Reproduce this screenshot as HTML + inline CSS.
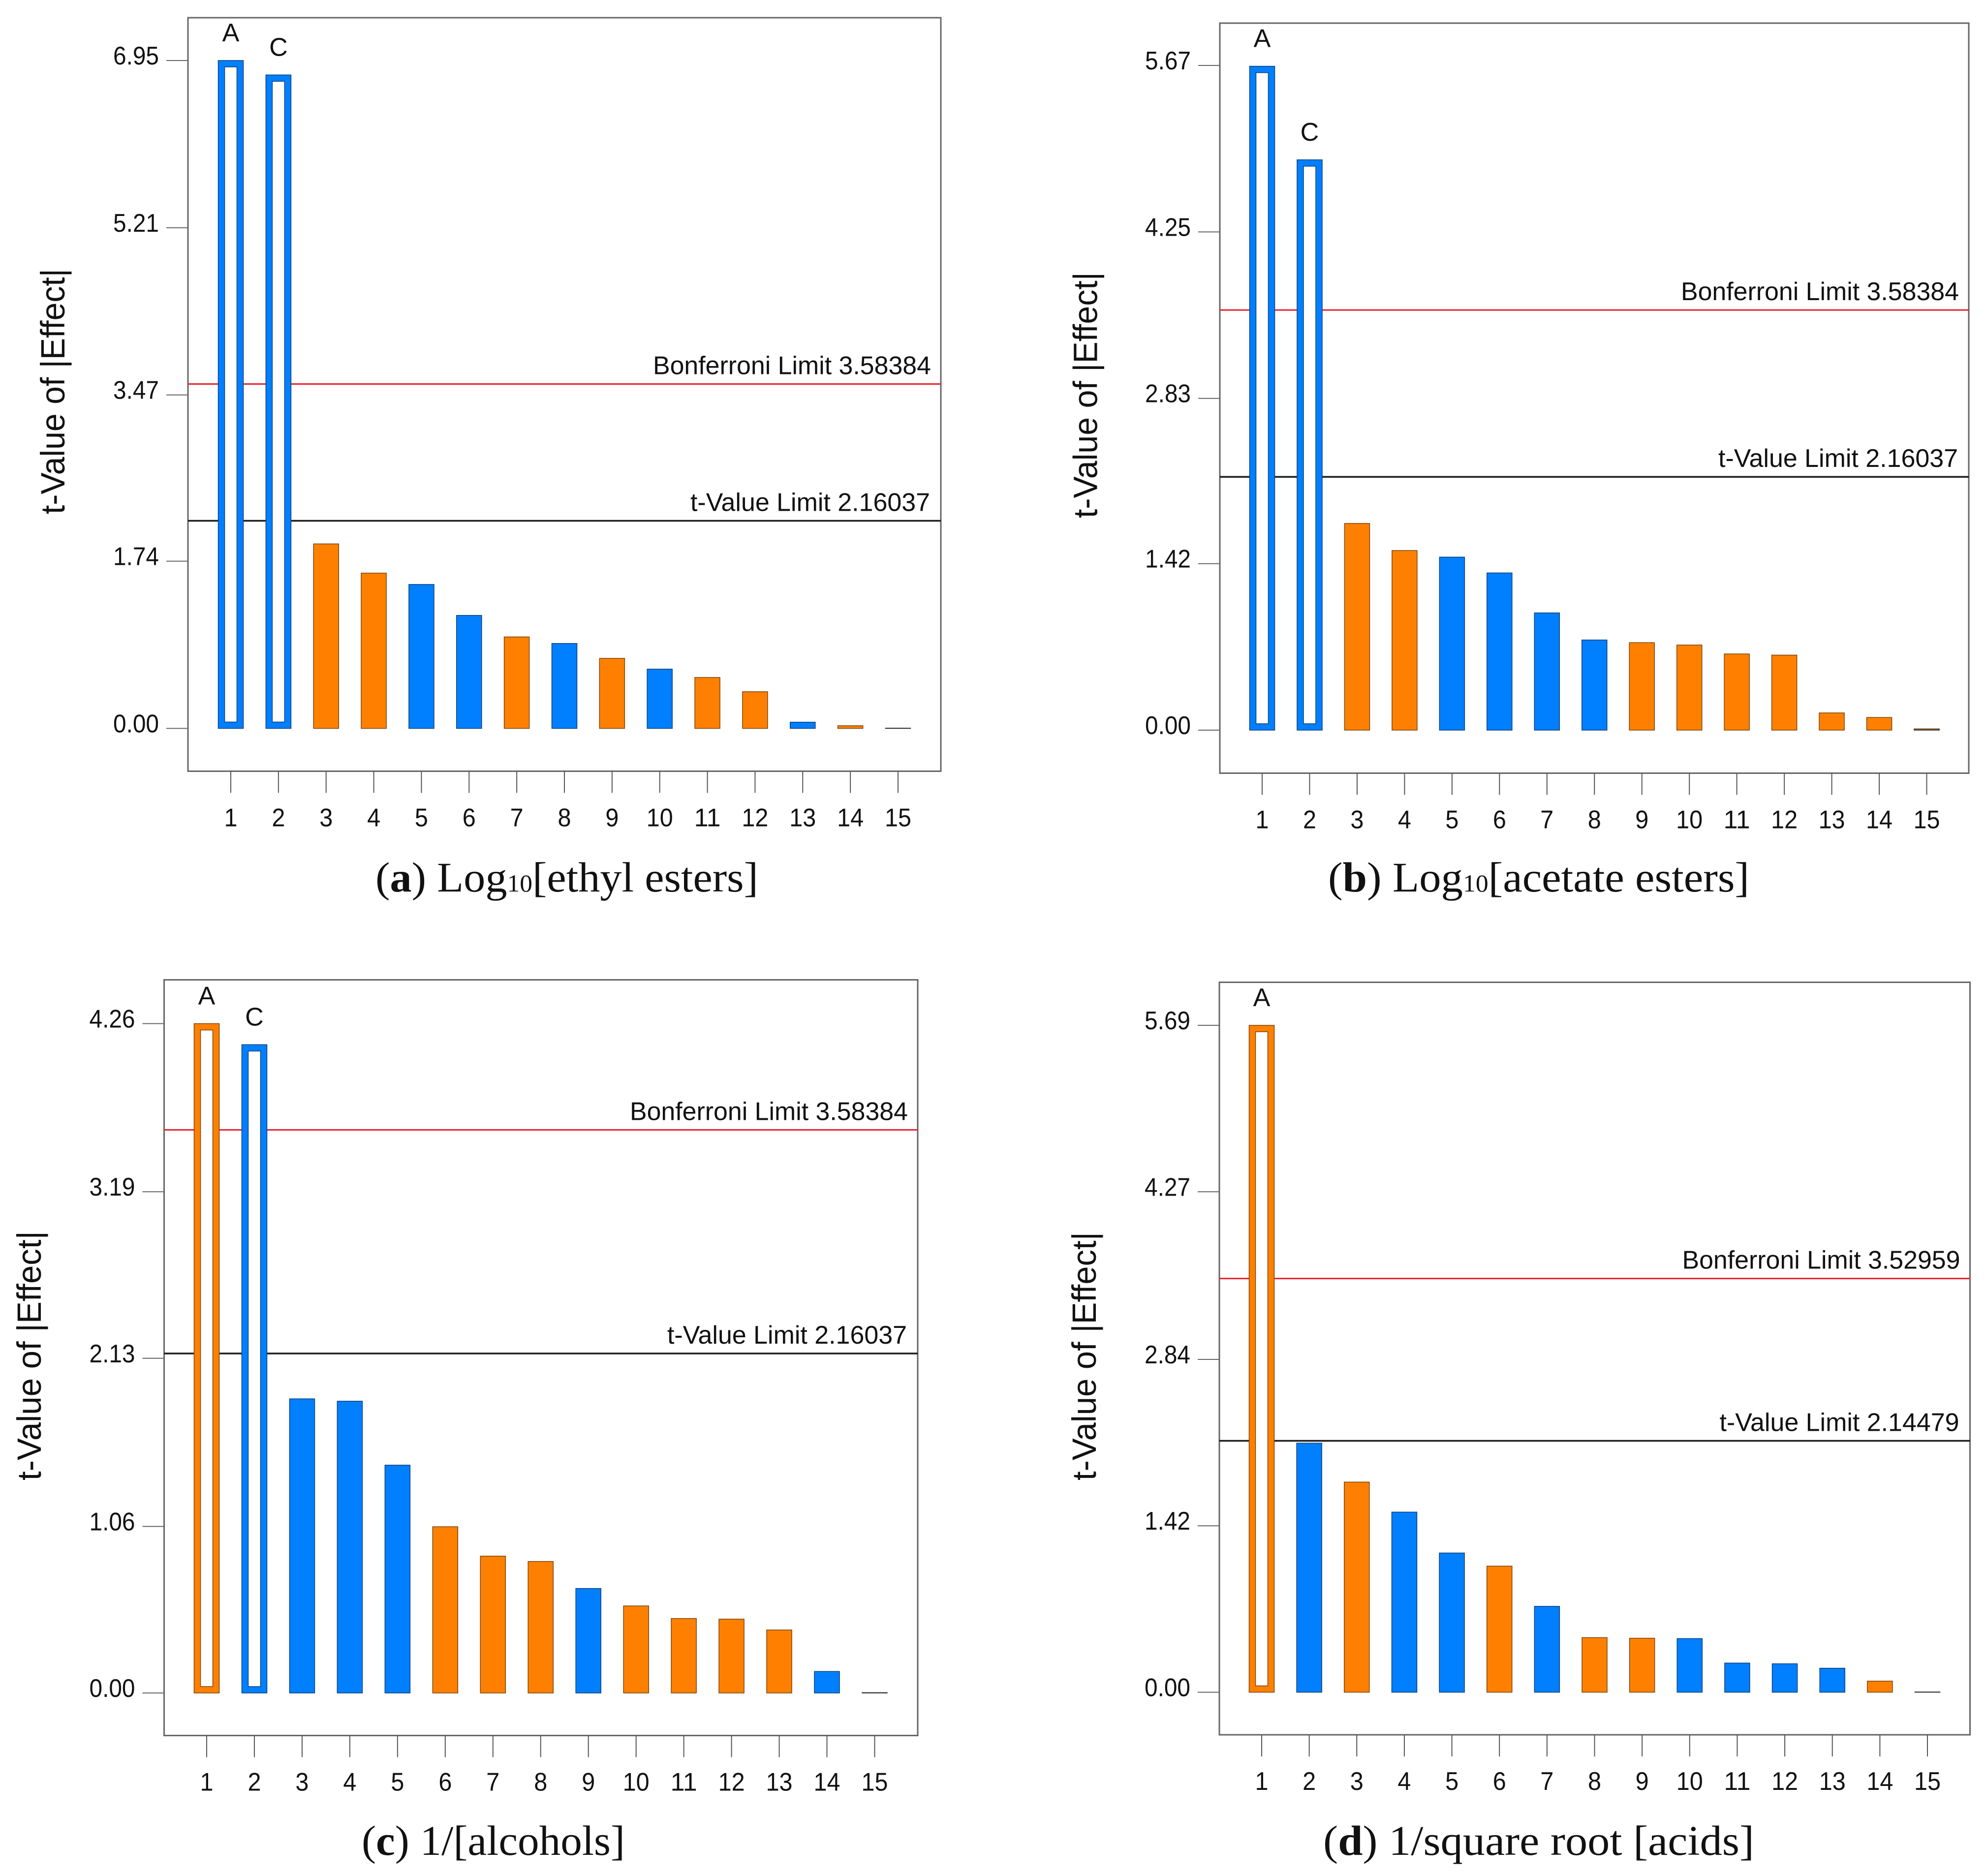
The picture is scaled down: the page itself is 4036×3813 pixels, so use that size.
<!DOCTYPE html>
<html lang="en">
<head>
<meta charset="utf-8">
<title>t-Value of |Effect| Pareto charts</title>
<style>
html,body{margin:0;padding:0;background:#fff;}
svg{display:block;}
text{font-family:"Liberation Sans",sans-serif;fill:#111;}
.caption{font-family:"Liberation Serif",serif;font-size:86px;fill:#111;}
</style>
</head>
<body>
<svg id="figure" xmlns="http://www.w3.org/2000/svg" width="4036" height="3813" viewBox="0 0 4036 3813">
<rect x="0" y="0" width="4036" height="3813" fill="#fff"/>
<g id="charts"></g>
<text class="caption" x="763" y="1812" textLength="778" lengthAdjust="spacingAndGlyphs">(<tspan font-weight="bold">a</tspan>) Log<tspan font-size="50">10</tspan>[ethyl esters]</text>
<text class="caption" x="2699" y="1812" textLength="856" lengthAdjust="spacingAndGlyphs">(<tspan font-weight="bold">b</tspan>) Log<tspan font-size="50">10</tspan>[acetate esters]</text>
<text class="caption" x="735" y="3770" textLength="535" lengthAdjust="spacingAndGlyphs">(<tspan font-weight="bold">c</tspan>) 1/[alcohols]</text>
<text class="caption" x="2689" y="3770" textLength="876" lengthAdjust="spacingAndGlyphs">(<tspan font-weight="bold">d</tspan>) 1/square root [acids]</text>
</svg>
<script>
// ---- data ----
const categories = [1,2,3,4,5,6,7,8,9,10,11,12,13,14,15];

const valuesA = [6.95,6.80,1.92,1.616,1.498,1.176,0.952,0.884,0.729,0.617,0.530,0.382,0.065,0.028,0.002];
const valuesB = [5.663,4.865,1.763,1.532,1.476,1.341,1.0,0.769,0.746,0.726,0.650,0.640,0.147,0.108,0.01];
const valuesC = [4.26,4.126,1.872,1.857,1.45,1.058,0.871,0.837,0.665,0.554,0.474,0.470,0.401,0.137,0.002];
const valuesD = [5.69,2.125,1.793,1.537,1.188,1.076,0.733,0.466,0.461,0.458,0.249,0.243,0.205,0.095,0.002];

// effect sign per bar: "p" = positive (orange), "n" = negative (blue)
const signsA = ["n","n","p","p","n","n","p","n","p","n","p","p","n","p","n"];
const signsB = ["n","n","p","p","n","n","n","n","p","p","p","p","p","p","p"];
const signsC = ["p","n","n","n","n","p","p","p","n","p","p","p","p","n","n"];
const signsD = ["p","n","p","n","n","p","n","p","p","n","n","n","n","p","n"];

const effectsA = ["A","C"];
const effectsB = ["A","C"];
const effectsC = ["A","C"];
const effectsD = ["A"];

const yTicksA = ["0.00","1.74","3.47","5.21","6.95"];
const yTicksB = ["0.00","1.42","2.83","4.25","5.67"];
const yTicksC = ["0.00","1.06","2.13","3.19","4.26"];
const yTicksD = ["0.00","1.42","2.84","4.27","5.69"];

const limitsA = [3.58384,2.16037];
const limitsB = [3.58384,2.16037];
const limitsC = [3.58384,2.16037];
const limitsD = [3.52959,2.14479];

// ---- layout (pixels, not data) ----
const panels = [
 {id:"a",values:valuesA,signs:signsA,effects:effectsA,ticks:yTicksA,limits:limitsA,
  left:382,right:1912,top:36,bottom:1567.5,yZero:1480.5,yMax:123,x1:469,x15:1825,titleX:131,titleY0:546,titleY1:1045},
 {id:"b",values:valuesB,signs:signsB,effects:effectsB,ticks:yTicksB,limits:limitsB,
  left:2479,right:4001,top:47,bottom:1571.5,yZero:1484,yMax:133,x1:2565,x15:3915.5,titleX:2229.5,titleY0:553,titleY1:1053},
 {id:"c",values:valuesC,signs:signsC,effects:effectsC,ticks:yTicksC,limits:limitsC,
  left:333.5,right:1865,top:1991.5,bottom:3527.5,yZero:3441,yMax:2080.5,x1:420,x15:1777.5,titleX:83,titleY0:2502,titleY1:3009},
 {id:"d",values:valuesD,signs:signsD,effects:effectsD,ticks:yTicksD,limits:limitsD,
  left:2478,right:4003.5,top:1996.5,bottom:3526,yZero:3439.5,yMax:2084,x1:2564,x15:3917,titleX:2227,titleY0:2504,titleY1:3009}
];

const NS = "http://www.w3.org/2000/svg";
const FILL = {p:"#ff8000",n:"#007fff"};
const EDGE = {p:"#7a4308",n:"#0b3f78"};
const root = document.getElementById("charts");

function make(tag, parent, attrs){
  const el = document.createElementNS(NS, tag);
  for (const k in attrs) el.setAttribute(k, attrs[k]);
  parent.appendChild(el);
  return el;
}

panels.forEach(function(p){
  const g = make("g", root, {});
  
  

  const domainMax = parseFloat(p.ticks[p.ticks.length-1]);
  const yScale = function(v){ return p.yZero - v * (p.yZero - p.yMax) / domainMax; };
  const xScale = function(c){ return p.x1 + (c - categories[0]) * (p.x15 - p.x1) / (categories[categories.length-1] - categories[0]); };

  const frame = make("rect", g, {x:p.left,y:p.top,width:p.right-p.left,height:p.bottom-p.top,fill:"#fff",stroke:"#666",'stroke-width':3});
  
  

  // y ticks
  p.ticks.forEach(function(t){
    const y = yScale(parseFloat(t));
    const line = make("line", g, {x1:p.left-44,x2:p.left,y1:y,y2:y,stroke:"#666",'stroke-width':2});
    
    
    const label = make("text", g, {x:p.left-59,y:y+8,'text-anchor':'end','font-size':52,textLength:93,lengthAdjust:'spacingAndGlyphs'});
    
    
    label.textContent = t;
  });

  // x ticks
  categories.forEach(function(c){
    const x = xScale(c);
    const line = make("line", g, {x1:x,x2:x,y1:p.bottom,y2:p.bottom+44,stroke:"#555",'stroke-width':2});
    
    
    const s = String(c);
    const label = make("text", g, {x:x,y:p.bottom+112,'text-anchor':'middle','font-size':52,textLength:27*s.length,lengthAdjust:'spacingAndGlyphs'});
    
    
    label.textContent = s;
  });

  // limit lines (behind bars)
  const limitColors = ["#e8212b","#1c1c1c"];
  const limitPrefix = ["Bonferroni Limit ","t-Value Limit "];
  const limitWidths = [565,487];
  const limitInset = [20,22];
  p.limits.forEach(function(v,i){
    const y = yScale(v);
    const line = make("line", g, {x1:p.left,x2:p.right,y1:y,y2:y,stroke:limitColors[i],'stroke-width':i===0 ? 3 : 3.5});
    
    
    const label = make("text", g, {x:p.right-limitInset[i],y:y-20,'text-anchor':'end','font-size':52,textLength:limitWidths[i],lengthAdjust:'spacingAndGlyphs'});
    
    
    label.textContent = limitPrefix[i] + v.toFixed(5);
  });

  // bars
  const barW = 51;
  p.values.forEach(function(v,i){
    const x = xScale(categories[i]) - barW/2;
    const yTop = yScale(v);
    const h = Math.max(p.yZero - yTop, 0.5);
    const bar = make("rect", g, {x:x,y:p.yZero-h,width:barW,height:h,fill:FILL[p.signs[i]],stroke:h < 3 ? "#222" : EDGE[p.signs[i]],'stroke-width':1.5});
    
    
    if (i < p.effects.length){
      const inner = make("rect", g, {x:x+13,y:yTop+13,width:barW-26,height:h-26,fill:"#fff",stroke:EDGE[p.signs[i]],'stroke-width':1.5});
      
      
      const tag = make("text", g, {x:x+barW/2,y:yTop-39,'text-anchor':'middle','font-size':52});
      
      
      tag.textContent = p.effects[i];
    }
  });

  // y axis title
  const title = make("text", g, {x:0,y:0,'font-size':69,textLength:p.titleY1-p.titleY0,lengthAdjust:'spacingAndGlyphs',transform:'translate('+p.titleX+','+p.titleY1+') rotate(-90)'});
  
  
  title.textContent = "t-Value of |Effect|";
});
</script>
</body>
</html>
